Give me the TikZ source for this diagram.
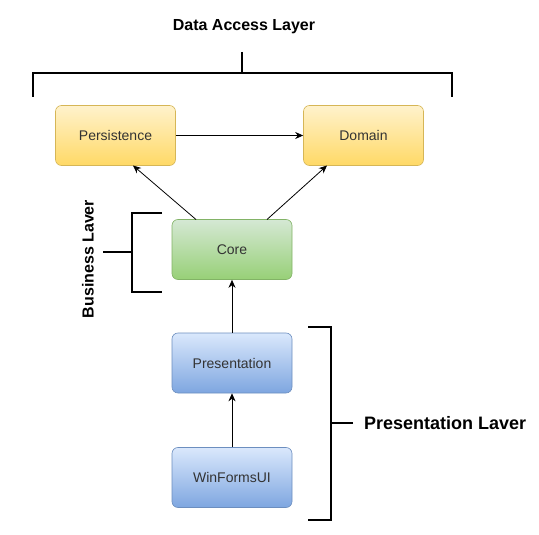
\documentclass[tikz,border=0pt]{standalone}
\usepackage{fontspec}
\setmainfont{Liberation Sans}
\usetikzlibrary{arrows.meta}
\definecolor{yTop}{HTML}{FFF2CC}
\definecolor{yBot}{HTML}{FFD966}
\definecolor{yLine}{HTML}{D6B656}
\definecolor{gTop}{HTML}{D5E8D4}
\definecolor{gBot}{HTML}{97D077}
\definecolor{gLine}{HTML}{82B366}
\definecolor{bTop}{HTML}{DAE8FC}
\definecolor{bBot}{HTML}{7EA6E0}
\definecolor{bLine}{HTML}{6C8EBF}
\definecolor{txt}{HTML}{333333}
\tikzset{
  box/.style={rounded corners=6pt, minimum width=120pt, minimum height=60pt, inner sep=0pt,
    font=\fontsize{14}{16}\selectfont, text=txt, line width=0.6pt},
  ybox/.style={box, top color=yTop, bottom color=yBot, draw=yLine},
  gbox/.style={box, top color=gTop, bottom color=gBot, draw=gLine},
  bbox/.style={box, top color=bTop, bottom color=bBot, draw=bLine},
  conn/.style={-{Stealth[length=8pt,width=7pt]}, line width=0.8pt},
  brk/.style={line width=1.6pt},
  lbl/.style={font=\bfseries, inner sep=0pt}
}
\begin{document}
\begin{tikzpicture}[x=1pt,y=-1pt]
\useasboundingbox (0,0) rectangle (539,535);
\node[ybox] (pers) at (115.5,135.5) {Persistence};
\node[ybox] (dom) at (363.5,135.5) {Domain};
\node[gbox] (core) at (232,249.5) {Core};
\node[bbox] (pres) at (232,363) {Presentation};
\node[bbox] (win) at (232,477.5) {WinFormsUI};

\draw[conn] (pers) -- (dom);
\coordinate (c1) at (196,219.5);
\coordinate (p1) at (133,165.5);
\coordinate (c2) at (267,219.5);
\coordinate (d1) at (327,165.5);
\draw[conn] (c1) -- (p1);
\draw[conn] (c2) -- (d1);
\draw[conn] (pres) -- (core);
\draw[conn] (win) -- (pres);

% Data access bracket
\coordinate (da1) at (33,97);
\coordinate (da2) at (452,97);
\coordinate (dat) at (242,52);
\draw[brk] (da1) -- (33,73) -- (452,73) -- (da2);
\draw[brk] (dat) -- (242,73);
\node[lbl, font=\fontsize{16}{18}\selectfont\bfseries] (dal) at (244,27) {Data Access Layer};

% Business bracket
\coordinate (bt) at (162,213);
\coordinate (bb) at (162,292);
\coordinate (bs) at (103,252);
\draw[brk] (bt) -- (132,213) -- (132,292) -- (bb);
\draw[brk] (bs) -- (132,252);
\node[lbl, font=\fontsize{16}{18}\selectfont\bfseries, rotate=90] (bl) at (88,259) {Business Laver};

% Presentation bracket
\coordinate (pt) at (308,327);
\coordinate (pb) at (308,520);
\coordinate (ps) at (353,423);
\draw[brk] (pt) -- (331,327) -- (331,520) -- (pb);
\draw[brk] (ps) -- (331,423);
\node[lbl, font=\fontsize{18}{20}\selectfont\bfseries, anchor=west] (pl) at (364,423) {Presentation Laver};
\end{tikzpicture}
\end{document}
